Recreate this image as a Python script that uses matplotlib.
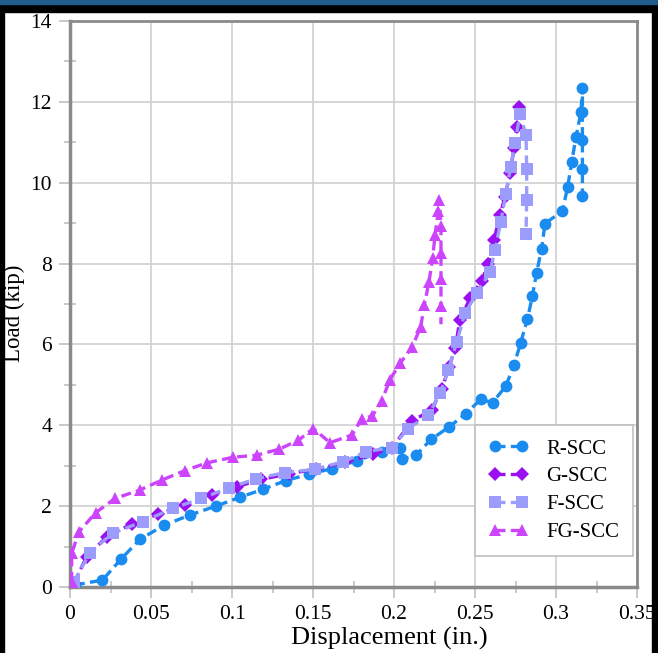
import matplotlib
matplotlib.use("Agg")
import matplotlib.pyplot as plt
from matplotlib.patches import Rectangle
from matplotlib.ticker import MultipleLocator

# ---- data ----
r_x = [0.003, 0.020, 0.0315, 0.0432, 0.0582, 0.074, 0.090, 0.105, 0.1193, 0.1331,
       0.1473, 0.162, 0.177, 0.1924, 0.2037, 0.2048, 0.2136, 0.2228, 0.2341, 0.2444,
       0.2535, 0.2609, 0.269, 0.2741, 0.2782, 0.2823, 0.2854, 0.288, 0.2911, 0.2932,
       0.304, 0.3072, 0.3097, 0.3123, 0.3154, 0.3163, 0.3163, 0.3163, 0.3163, 0.3163]
r_y = [0.05, 0.17, 0.69, 1.18, 1.53, 1.78, 2.0, 2.22, 2.42, 2.63,
       2.79, 2.93, 3.12, 3.35, 3.43, 3.16, 3.26, 3.65, 3.96, 4.29,
       4.64, 4.56, 4.97, 5.49, 6.04, 6.62, 7.19, 7.77, 8.36, 8.99,
       9.30, 9.90, 10.51, 11.12, 11.75, 12.35, 11.75, 11.05, 10.35, 9.68]

g_x = [0.0025, 0.0103, 0.0226, 0.038, 0.0545, 0.071, 0.0875, 0.1029, 0.118, 0.135,
       0.152, 0.170, 0.187, 0.199, 0.2109, 0.2233, 0.2294, 0.2341, 0.2377, 0.2407,
       0.2469, 0.2541, 0.2582, 0.2617, 0.2654, 0.2685, 0.2716, 0.2741, 0.2757, 0.2774]
g_y = [0.10, 0.75, 1.24, 1.56, 1.80, 2.03, 2.27, 2.48, 2.66, 2.80,
       2.92, 3.08, 3.28, 3.45, 4.10, 4.38, 4.89, 5.45, 5.90, 6.60,
       7.14, 7.57, 8.00, 8.58, 9.20, 9.65, 10.23, 10.85, 11.38, 11.88]

f_x = [0.0025, 0.0123, 0.0263, 0.045, 0.0638, 0.081, 0.098, 0.115, 0.1327, 0.151,
       0.1687, 0.183, 0.1986, 0.2088, 0.2212, 0.2284, 0.2335, 0.2387, 0.2438, 0.251,
       0.2593, 0.2623, 0.2659, 0.2691, 0.272, 0.2747, 0.2778, 0.2815, 0.2819, 0.2819, 0.2815]
f_y = [0.13, 0.85, 1.33, 1.62, 1.95, 2.19, 2.45, 2.68, 2.83, 2.91,
       3.10, 3.35, 3.45, 3.92, 4.25, 4.79, 5.36, 6.06, 6.77, 7.26,
       7.79, 8.33, 9.03, 9.73, 10.39, 10.97, 11.71, 11.17, 10.35, 9.57, 8.73]

fg_x = [0.001, 0.001, 0.0056, 0.0159, 0.0278, 0.0432, 0.057, 0.071, 0.0844, 0.1008,
        0.1152, 0.1292, 0.141, 0.1502, 0.1605, 0.174, 0.180, 0.1866, 0.1924, 0.1975,
        0.2037, 0.2113, 0.2165, 0.2187, 0.2216, 0.2239, 0.2253, 0.2274, 0.228, 0.229,
        0.229, 0.229, 0.229, 0.229]
fg_y = [0.13, 0.83, 1.37, 1.84, 2.19, 2.40, 2.65, 2.88, 3.07, 3.21,
        3.26, 3.41, 3.63, 3.92, 3.57, 3.76, 4.15, 4.23, 4.60, 5.13,
        5.53, 5.94, 6.44, 6.97, 7.55, 8.15, 8.70, 9.31, 9.58, 8.93,
        8.27, 7.61, 6.95, 6.50]

labels = ["R-SCC", "G-SCC", "F-SCC", "FG-SCC"]
colors = ["#1a8cf0", "#9a10f0", "#9c9cfc", "#cc44fc"]
markers = ["o", "D", "s", "^"]
msizes = [8.5, 7, 8, 9]

x_ticks = [0, 0.05, 0.1, 0.15, 0.2, 0.25, 0.3, 0.35]
x_tick_labels = ["0", "0.05", "0.1", "0.15", "0.2", "0.25", "0.3", "0.35"]
y_ticks = [0, 2, 4, 6, 8, 10, 12, 14]

plt.rcParams['font.family'] = ['Liberation Serif', 'DejaVu Serif']

fig = plt.figure(figsize=(6.58, 6.53), dpi=100)
ax = fig.add_axes([70/658, 1-587/653, (637-70)/658, (587-21)/653])

series = [(r_x, r_y), (g_x, g_y), (f_x, f_y), (fg_x, fg_y)]
for i, ((xs, ys), lab) in enumerate(zip(series, labels)):
    me = list(range(len(xs)))
    if lab == "FG-SCC":
        me = me[:-1]
    ax.plot(xs, ys, color=colors[i], marker=markers[i], markersize=msizes[i],
            linestyle=(0, (3, 1.6)), linewidth=2.4, label=lab, markevery=me,
            markeredgewidth=0, zorder=3 + i * 0.1)

ax.set_xlim(0, 0.35)
ax.set_ylim(0, 14)
ax.set_xticks(x_ticks)
ax.set_xticklabels(x_tick_labels)
ax.set_yticks(y_ticks)
ax.xaxis.set_minor_locator(MultipleLocator(0.025))
ax.yaxis.set_minor_locator(MultipleLocator(1))
ax.grid(True, which='major', color='#d0d0d0', linewidth=1.2, zorder=0)
ax.set_axisbelow(True)
ax.tick_params(which='major', direction='out', length=8, width=1.2, color='#c0c0c0',
               labelsize=15.5, pad=5)
ax.tick_params(which='minor', direction='inout', length=9, width=1.2, color='#c0c0c0')
for side in ['left', 'bottom']:
    ax.spines[side].set_color('#8a8a8a')
    ax.spines[side].set_linewidth(2.5)
for side in ['top', 'right']:
    ax.spines[side].set_color('#8a8a8a')
    ax.spines[side].set_linewidth(2)

ax.set_xlabel("Displacement (in.)", fontsize=19)
ax.xaxis.set_label_coords((389 - 70) / 567, -0.071)
ax.set_ylabel("Load (kip)", fontsize=16.5)
ax.yaxis.set_label_coords(-0.079, 0.484)

leg = ax.legend(loc='lower right', bbox_to_anchor=(0.993, 0.055), fontsize=15,
                frameon=True, fancybox=False, edgecolor='#c0c0c0', framealpha=1,
                numpoints=2, handlelength=1.9, borderpad=0.65, labelspacing=0.4,
                handletextpad=0.9, borderaxespad=0)
leg.get_frame().set_linewidth(1.2)

# dark frame around the picture
fig.patches.append(Rectangle((0, 0), 4/658, 1, transform=fig.transFigure,
                             color='black', zorder=10))
fig.patches.append(Rectangle((1-6/658, 0), 6/658, 1, transform=fig.transFigure,
                             color='black', zorder=10))
fig.patches.append(Rectangle((0, 1-12/653), 1, 12/653, transform=fig.transFigure,
                             color='black', zorder=10))
fig.patches.append(Rectangle((0, 1-4/653), 1, 4/653, transform=fig.transFigure,
                             color='#1f5d8e', zorder=11))

fig.savefig("out.png", dpi=100)
